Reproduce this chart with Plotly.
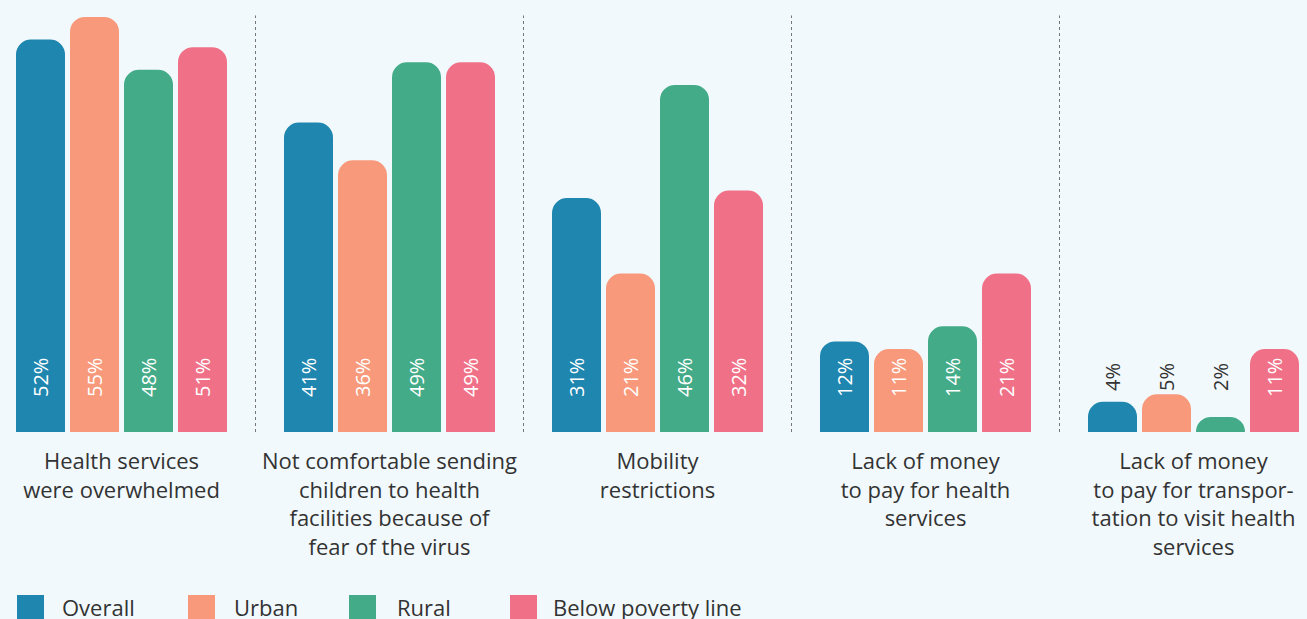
import plotly.graph_objects as go

# Reasons for not seeking health care, share of respondents (%)
categories = [
    "Health services<br>were overwhelmed",
    "Not comfortable sending<br>children to health<br>facilities because of<br>fear of the virus",
    "Mobility<br>restrictions",
    "Lack of money<br>to pay for health<br>services",
    "Lack of money<br>to pay for transpor-<br>tation to visit health<br>services",
]
series_names = ["Overall", "Urban", "Rural", "Below poverty line"]
overall = [52, 41, 31, 12, 4]
urban = [55, 36, 21, 11, 5]
rural = [48, 49, 46, 14, 2]
below_poverty = [51, 49, 32, 21, 11]

colors = ["#1e86af", "#f7997a", "#43ab88", "#f07187"]
series_values = [overall, urban, rural, below_poverty]

W, H = 1307, 619
MARGIN_B = 187
PLOT_H = H - MARGIN_B
Y_MAX = 57.25
BARGAP = 0.194
BARGROUPGAP = 0.0926
BG = "#f2f9fc"
FONT = "Open Sans"
DARK = "#333333"

fig = go.Figure()
x_idx = list(range(len(categories)))
for name, vals, col in zip(series_names, series_values, colors):
    fig.add_trace(go.Bar(
        x=x_idx, y=vals, name=name, marker_color=col,
        marker_line_width=0, showlegend=False, hoverinfo="skip",
    ))

# value labels, rotated, sitting near the bar base
slot = (1 - BARGAP) / len(series_names)
label_y = 7.22
label_top = label_y + 2.75
annotations = []
for j, vals in enumerate(series_values):
    off = (j - (len(series_names) - 1) / 2) * slot
    for i, v in enumerate(vals):
        inside = v > label_top
        annotations.append(dict(
            x=i + off, y=label_y, xref="x", yref="y",
            text=f"{v}%", textangle=-90, showarrow=False,
            xanchor="center", yanchor="middle",
            font=dict(family=FONT, size=20, color="white" if inside else DARK),
        ))

# dotted separators between categories
shapes = []
for k in range(len(categories) - 1):
    shapes.append(dict(
        type="line", xref="x", yref="y", x0=k + 0.5, x1=k + 0.5, y0=0, y1=55.2,
        line=dict(color="#777777", width=1, dash="dot"), layer="below",
    ))

# legend row drawn beneath the category labels
def py(pixel_y):
    return (PLOT_H - pixel_y) / PLOT_H

legend_sq_left = [17, 188, 349, 510]
legend_txt_left = [60, 232, 395, 551]
for name, col, sx, tx in zip(series_names, colors, legend_sq_left, legend_txt_left):
    shapes.append(dict(
        type="rect", xref="paper", yref="paper",
        x0=sx / W, x1=(sx + 27) / W, y0=py(622), y1=py(595),
        fillcolor=col, line_width=0,
    ))
    annotations.append(dict(
        x=tx / W, y=py(607), xref="paper", yref="paper", text=name,
        showarrow=False, xanchor="left", yanchor="middle",
        font=dict(family=FONT, size=22, color=DARK),
    ))

fig.update_layout(
    width=W, height=H,
    margin=dict(l=0, r=0, t=0, b=MARGIN_B, pad=0),
    paper_bgcolor=BG, plot_bgcolor=BG,
    barmode="group", bargap=BARGAP, bargroupgap=BARGROUPGAP,
    barcornerradius=15,
    showlegend=False,
    font=dict(family=FONT, color=DARK),
    xaxis=dict(
        tickvals=x_idx, ticktext=categories, range=[-0.4534, 4.4235],
        showgrid=False, zeroline=False, showline=False, ticks="",
        tickfont=dict(family=FONT, size=22, color=DARK),
        ticklabelstandoff=14,
    ),
    yaxis=dict(range=[0, Y_MAX], visible=False, showgrid=False, zeroline=False),
    annotations=annotations,
    shapes=shapes,
)

fig.write_html("out.html")
